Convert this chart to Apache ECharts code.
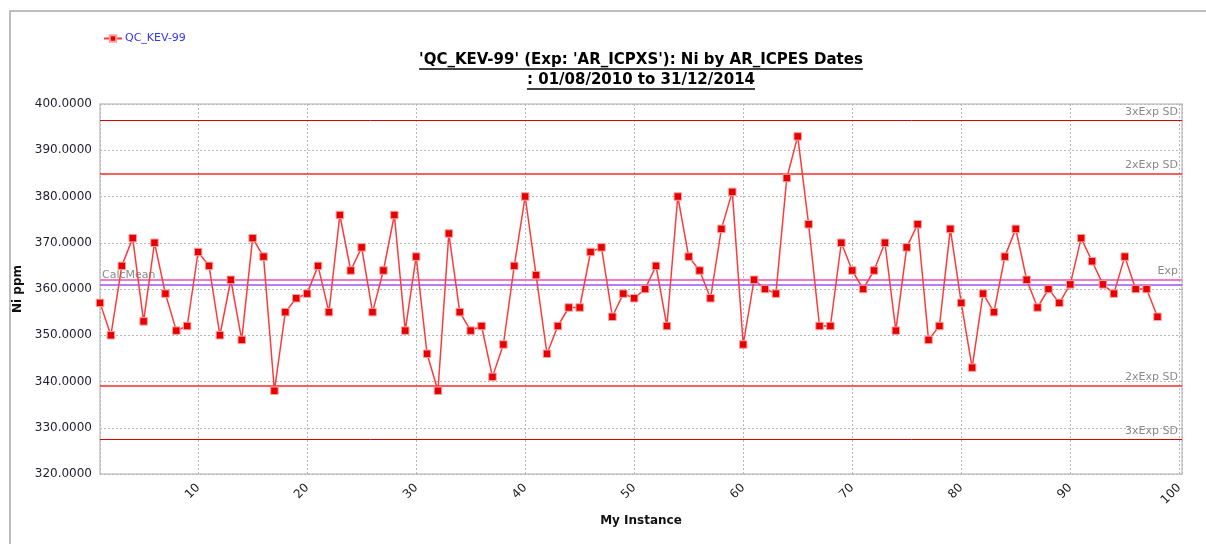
<!DOCTYPE html>
<html>
<head>
<meta charset="utf-8">
<title>QC_KEV-99 Ni ppm</title>
<script src="https://cdn.jsdelivr.net/npm/echarts@6/dist/echarts.min.js"></script>
<style>
  html, body { margin: 0; padding: 0; background: #fff; }
  #qcChart { width: 1206px; height: 544px; }
</style>
</head>
<body>
<div id="qcChart"></div>
<script>
// Ni ppm per instance (instance = index + 1)
var niValues = [
    357, 350, 365, 371, 353, 370, 359, 351, 352, 368,
    365, 350, 362, 349, 371, 367, 338, 355, 358, 359,
    365, 355, 376, 364, 369, 355, 364, 376, 351, 367,
    346, 338, 372, 355, 351, 352, 341, 348, 365, 380,
    363, 346, 352, 356, 356, 368, 369, 354, 359, 358,
    360, 365, 352, 380, 367, 364, 358, 373, 381, 348,
    362, 360, 359, 384, 393, 374, 352, 352, 370, 364,
    360, 364, 370, 351, 369, 374, 349, 352, 373, 357,
    343, 359, 355, 367, 373, 362, 356, 360, 357, 361,
    371, 366, 361, 359, 367, 360, 360, 354
];

// control lines
var limitNames = ['3xExp SD', '2xExp SD', 'Exp', 'CalcMean', '2xExp SD', '3xExp SD'];
var limitValues = [396.5, 385, 362, 360.9, 339, 327.5];

var seriesName = 'QC_KEV-99';
var titleLines = ["'QC_KEV-99' (Exp: 'AR_ICPXS'): Ni by AR_ICPES Dates", ': 01/08/2010 to 31/12/2014'];

var baseFont = '"DejaVu Sans", Tahoma, sans-serif';
var titleFont = 'bold 15px "DejaVu Sans", Tahoma, sans-serif';

// width of a title line, for the underline
function textWidth(txt, font) {
    var c = document.createElement('canvas').getContext('2d');
    c.font = font;
    return c.measureText(txt).width;
}

var points = niValues.map(function (v, i) { return [i + 1, v]; });

var limitStyles = [
    {color: '#e00000', width: 1},
    {color: '#ff2a2a', width: 1.5},
    {color: '#f07ac4', width: 2},
    {color: '#9b55ee', width: 1.5},
    {color: '#ff2a2a', width: 1.5},
    {color: '#e00000', width: 1}
];

var markData = limitValues.map(function (v, i) {
    var isMean = limitNames[i] === 'CalcMean';
    return {
        name: limitNames[i],
        yAxis: v,
        lineStyle: {color: limitStyles[i].color, width: limitStyles[i].width, type: 'solid'},
        label: {
            show: true,
            formatter: limitNames[i],
            position: isMean ? 'insideStartTop' : 'insideEndTop',
            distance: isMean ? [2, 4] : [4, 3],
            color: '#8a8a8a',
            fontSize: 11,
            fontFamily: baseFont
        }
    };
});

var cx = 641;
var graphics = [
    {
        type: 'rect', silent: true,
        shape: {x: 10, y: 11, width: 1300, height: 700},
        style: {fill: 'none', stroke: '#a8a8a8', lineWidth: 1.5}
    }
];
titleLines.forEach(function (t, i) {
    var y = 60 + i * 20;
    var w = textWidth(t, titleFont);
    graphics.push({
        type: 'text', silent: true,
        style: {x: cx, y: y, text: t, font: titleFont, fill: '#000', align: 'center', verticalAlign: 'middle'}
    });
    graphics.push({
        type: 'line', silent: true,
        shape: {x1: cx - w / 2, y1: y + 9, x2: cx + w / 2, y2: y + 9},
        style: {stroke: '#000', lineWidth: 1.5}
    });
});

var myChart = echarts.init(document.getElementById('qcChart'));
myChart.setOption({
    animation: false,
    textStyle: {fontFamily: baseFont},
    graphic: graphics,
    legend: {
        left: 98,
        top: 28,
        itemWidth: 18,
        itemHeight: 8,
        itemGap: 4,
        textStyle: {color: '#3535f5', fontSize: 11, fontFamily: baseFont, padding: [0, 0, 0, -2]},
        data: [seriesName]
    },
    grid: {
        left: 100,
        right: 24,
        top: 104,
        bottom: 70,
        show: true,
        borderColor: '#c6c6c6',
        borderWidth: 1.5,
        containLabel: false
    },
    xAxis: {
        type: 'value',
        min: 1,
        max: 100.25,
        minInterval: 10,
        maxInterval: 10,
        splitNumber: 10,
        name: 'My Instance',
        nameLocation: 'middle',
        nameGap: 41,
        nameTextStyle: {fontWeight: 'bold', fontSize: 12, color: '#111'},
        axisLine: {show: false},
        axisTick: {show: false},
        axisLabel: {
            rotate: 45,
            fontSize: 12,
            color: '#222',
            margin: 12,
            showMinLabel: false,
            showMaxLabel: true,
            formatter: function (v) { return v % 10 === 0 ? String(v) : ''; }
        },
        splitLine: {show: true, lineStyle: {color: '#b8b8b8', type: [2, 2], width: 1}}
    },
    yAxis: {
        type: 'value',
        min: 320,
        max: 400,
        interval: 10,
        name: 'Ni ppm',
        nameLocation: 'middle',
        nameRotate: 90,
        nameGap: 72,
        nameTextStyle: {fontWeight: 'bold', fontSize: 12, color: '#111'},
        axisLine: {show: false},
        axisTick: {show: false},
        axisLabel: {
            fontSize: 12,
            color: '#1e1e30',
            margin: 8,
            formatter: function (v) { return v.toFixed(4); }
        },
        splitLine: {show: true, lineStyle: {color: '#b8b8b8', type: [2, 2], width: 1}}
    },
    series: [
        {
            name: seriesName,
            type: 'line',
            data: points,
            z: 5,
            symbol: 'rect',
            symbolSize: 7.5,
            lineStyle: {color: '#ff3a3a', width: 1.5},
            itemStyle: {color: '#e60000', borderColor: '#ffa0a0', borderWidth: 1},
            markLine: {
                silent: true,
                symbol: 'none',
                z: 2,
                data: markData
            }
        }
    ]
});
</script>
</body>
</html>
